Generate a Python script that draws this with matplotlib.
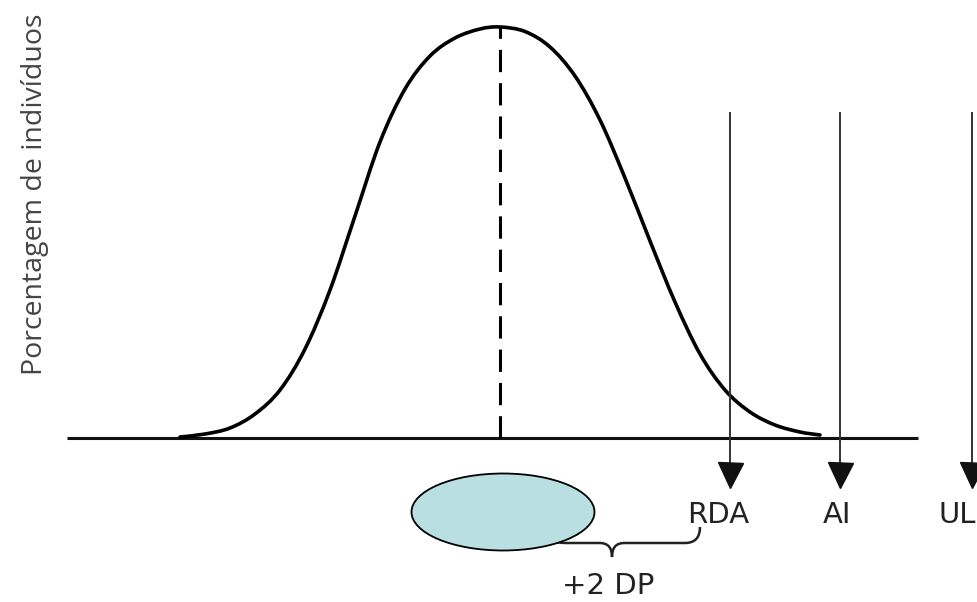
import matplotlib
matplotlib.use("Agg")
import matplotlib.pyplot as plt
from matplotlib.patches import Ellipse, PathPatch
from matplotlib.path import Path

# ---- data (x = intake position, y = share of individuals) ----
curve_x = [180, 205, 230, 255, 280, 305, 330, 355, 380, 405, 430, 455, 480,
           500, 525, 550, 575, 600, 625, 650, 675, 700, 725, 750, 775, 800, 820]
curve_y = [1, 4, 10, 24, 48, 89, 148, 222, 296, 349, 382, 400, 409,
           411, 406.5, 391, 362, 318, 260, 197, 136, 84, 48, 26, 13, 6, 3]
mean_x = 500
mean_peak = 411
limit_labels = ["RDA", "AI", "UL"]
limit_x = [730, 840, 972]
ylabel_text = "Porcentagem de indivíduos"
dp_label = "+2 DP"

BASE = 438  # pixel row of the baseline


def Y(p):
    return BASE - p


def smooth_path(xs, ys):
    """Catmull-Rom curve through the given points, as cubic Bezier segments."""
    pts = list(zip(xs, ys))
    verts = [pts[0]]
    codes = [Path.MOVETO]
    n = len(pts)
    for i in range(n - 1):
        p0 = pts[i - 1] if i > 0 else pts[i]
        p1 = pts[i]
        p2 = pts[i + 1]
        p3 = pts[i + 2] if i + 2 < n else pts[i + 1]
        c1 = (p1[0] + (p2[0] - p0[0]) / 6.0, p1[1] + (p2[1] - p0[1]) / 6.0)
        c2 = (p2[0] - (p3[0] - p1[0]) / 6.0, p2[1] - (p3[1] - p1[1]) / 6.0)
        verts += [c1, c2, p2]
        codes += [Path.CURVE4] * 3
    return Path(verts, codes)


fig = plt.figure(figsize=(9.78, 6.02), dpi=100)
ax = fig.add_axes([0, 0, 1, 1])
ax.set_xlim(0, 978)
ax.set_ylim(BASE - 602, BASE)
ax.axis("off")

# baseline
ax.plot([67, 918], [0, 0], color="#111111", lw=2.2, solid_capstyle="butt", zorder=2)

# bell curve
ax.add_patch(PathPatch(smooth_path(curve_x, curve_y), facecolor="none",
                       edgecolor="black", lw=2.6, capstyle="round",
                       joinstyle="round", zorder=3))

# mean dashed line
ax.plot([mean_x, mean_x], [0, mean_peak], color="black", lw=2.2,
        linestyle=(0, (7.3, 3.6)), zorder=3)

# limit arrows and labels
label_dx = {"RDA": -12, "AI": -3, "UL": -15}
for lab, x in zip(limit_labels, limit_x):
    ax.plot([x, x], [Y(113), Y(468)], color="#333333", lw=1.4, zorder=4)
    ax.plot([x], [Y(475)], marker="v", ms=18, color="#111111", mec="#111111",
            zorder=4)
    ax.text(x + label_dx[lab], Y(515), lab, ha="center", va="center",
            fontsize=21, color="#222222", family="DejaVu Sans")

# brace
verts = [(540, Y(528)), (548, Y(543)), (565, Y(543)),
         (600, Y(543)),
         (612, Y(543)), (612, Y(557)),
         (612, Y(543)), (624, Y(543)),
         (685, Y(543)),
         (700, Y(543)), (700, Y(527))]
codes = [Path.MOVETO, Path.CURVE3, Path.CURVE3,
         Path.LINETO,
         Path.CURVE3, Path.CURVE3,
         Path.CURVE3, Path.CURVE3,
         Path.LINETO,
         Path.CURVE3, Path.CURVE3]
ax.add_patch(PathPatch(Path(verts, codes), facecolor="none", edgecolor="#222222",
                       lw=1.8, zorder=4))

# ellipse
ax.add_patch(Ellipse((503, Y(512)), 183, 77, facecolor="#B9DFE2",
                     edgecolor="black", lw=1.3, zorder=5))

ax.text(608, Y(586), dp_label, ha="center", va="center", fontsize=21,
        color="#222222", family="DejaVu Sans")

# y label
ax.text(35, Y(194), ylabel_text, rotation=90, ha="center", va="center",
        fontsize=20.5, color="#444444", family="Open Sans")

fig.savefig("out.png", dpi=100)
